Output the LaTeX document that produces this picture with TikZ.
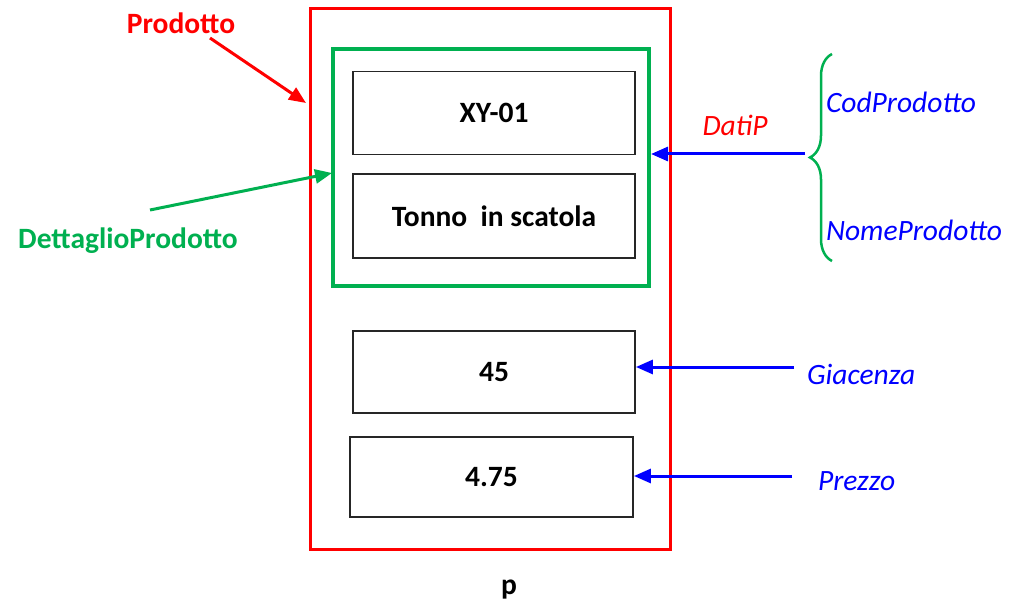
\documentclass[tikz,border=0pt]{standalone}
\usepackage{fontspec}
\setmainfont{Carlito}
\usetikzlibrary{arrows.meta,decorations.pathreplacing}
\definecolor{myred}{RGB}{255,0,0}
\definecolor{mygreen}{RGB}{0,176,80}
\definecolor{myblue}{RGB}{0,0,255}
\tikzset{
  cell/.style={draw=black!85,line width=1.8pt,minimum width=282pt,minimum height=83pt,inner sep=0pt,font=\fontsize{29.5}{34}\selectfont\bfseries},
  lab/.style={inner sep=0pt,outer sep=0pt,font=\fontsize{29.5}{34}\selectfont},
  arr/.style={line width=3pt,-{Triangle[length=17pt,width=14pt]}},
}
\begin{document}
\begin{tikzpicture}[x=1pt,y=-1pt]
\useasboundingbox[fill=white] (0,0) rectangle (1022,604);
% containers
\node[draw=myred,line width=3pt,minimum width=360pt,minimum height=540pt,inner sep=0pt] (outer) at (490,279) {};
\node[draw=mygreen,line width=4pt,minimum width=316pt,minimum height=237pt,inner sep=0pt] (inner) at (491,167.5) {};
% cells
\node[cell] (b1) at (494,113) {XY-01};
\node[cell,minimum height=84pt] (b2) at (494,216) {Tonno\ \ in scatola};
\node[cell,minimum height=82pt] (b3) at (494,372) {45};
\node[cell,minimum width=283pt,minimum height=80pt] (b4) at (491.5,477) {4.75};
% labels
\node[lab,text=myred,font=\fontsize{29.5}{34}\selectfont\bfseries] (prod) at (181,23) {Prodotto};
\node[lab,text=mygreen,font=\fontsize{29.5}{34}\selectfont\bfseries] (dett) at (128,241) {DettaglioProdotto};
\node[lab,text=myred,font=\fontsize{29.5}{34}\selectfont\itshape] (datip) at (735,125) {DatiP};
\node[lab,anchor=west,text=myblue,font=\fontsize{29.5}{34}\selectfont\itshape] (cod) at (826,102) {CodProdotto};
\node[lab,anchor=west,text=myblue,font=\fontsize{29.5}{34}\selectfont\itshape] (nome) at (826,230) {NomeProdotto};
\node[lab,anchor=west,text=myblue,font=\fontsize{29.5}{34}\selectfont\itshape] (giac) at (807,374) {Giacenza};
\node[lab,anchor=west,text=myblue,font=\fontsize{29.5}{34}\selectfont\itshape] (prez) at (818,481) {Prezzo};
\node[lab,font=\fontsize{29.5}{34}\selectfont\bfseries] (p) at (509,590) {p};
% arrow endpoints
\coordinate (ps) at (210,38);
\coordinate (pe) at (306,103);
\coordinate (ds) at (150,210);
\coordinate (de) at (332,173);
\coordinate (dps) at (805,154);
\coordinate (gs) at (794,367);
\coordinate (zs) at (792,476);
\coordinate (bt) at (832,261);
\coordinate (bb) at (832,54);
% arrows
\draw[arr,myred] (ps) -- (pe);
\draw[arr,mygreen] (ds) -- (de);
\draw[arr,myblue] (dps) -- (inner.east |- dps);
\draw[arr,myblue] (gs) -- (b3.east |- gs);
\draw[arr,myblue] (zs) -- (b4.east |- zs);
% brace
\draw[mygreen,line width=2.5pt,decorate,decoration={brace,amplitude=22pt}] (bt) -- (bb);
\end{tikzpicture}
\end{document}
